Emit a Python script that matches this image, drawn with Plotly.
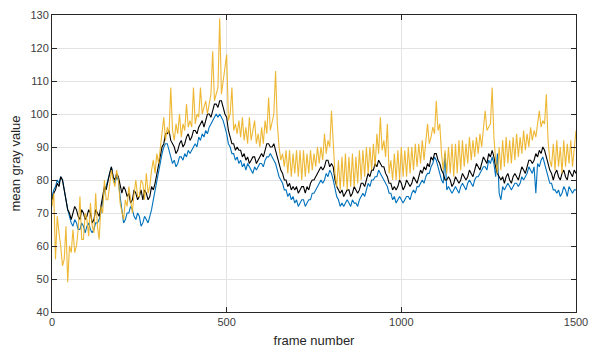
import plotly.graph_objects as go

# frame numbers (sampling every 5 frames)
frames = list(range(0, 1501, 5))

# mean gray value (black)
black_vals = [
    74, 76, 77, 79, 78, 81, 80, 77, 74, 71, 70, 68, 70, 72, 71, 69, 68, 71, 70, 68,
    69, 71, 70, 67, 68, 71, 70, 69, 72, 75, 78, 77, 80, 82, 84, 81, 80, 82, 81, 78,
    76, 78, 77, 75, 76, 73, 74, 77, 76, 74, 75, 77, 74, 77, 76, 74, 75, 78, 77, 79,
    82, 85, 88, 90, 91, 94, 94, 95, 92, 91, 90, 88, 89, 91, 92, 90, 91, 93, 94, 92,
    93, 95, 95, 94, 96, 97, 98, 96, 98, 100, 100, 99, 101, 103, 103, 102, 104, 104, 102, 100,
    99, 95, 93, 91, 91, 89, 90, 89, 89, 87, 88, 86, 87, 85, 86, 87, 87, 85, 86, 87,
    88, 87, 89, 91, 91, 90, 90, 91, 89, 87, 85, 83, 82, 80, 80, 78, 79, 77, 78, 77,
    78, 76, 77, 78, 78, 76, 78, 77, 79, 80, 80, 81, 82, 83, 84, 83, 84, 86, 86, 84,
    85, 84, 80, 78, 77, 76, 77, 75, 76, 77, 77, 75, 76, 78, 77, 76, 77, 79, 79, 78,
    80, 82, 81, 83, 83, 85, 84, 86, 85, 84, 84, 82, 81, 79, 79, 77, 78, 77, 78, 80,
    79, 77, 78, 80, 79, 78, 79, 81, 80, 79, 81, 83, 82, 84, 83, 85, 84, 87, 86, 88,
    88, 86, 85, 83, 82, 80, 80, 81, 80, 78, 79, 81, 80, 79, 80, 82, 81, 80, 81, 83,
    82, 81, 83, 85, 84, 83, 85, 87, 86, 85, 88, 87, 89, 87, 84, 82, 81, 80, 81, 79,
    81, 82, 80, 79, 81, 82, 81, 80, 82, 84, 83, 82, 84, 86, 86, 85, 86, 88, 87, 89,
    88, 90, 89, 87, 85, 83, 82, 80, 82, 83, 81, 80, 82, 83, 81, 80, 83, 82, 81, 83,
    82,
]

# blue series
blue_vals = [
    75, 77, 78, 80, 79, 81, 80, 77, 73, 71, 69, 67, 66, 68, 67, 65, 65, 67, 66, 64,
    66, 67, 65, 64, 65, 67, 67, 68, 70, 74, 77, 78, 80, 82, 84, 81, 79, 81, 80, 75,
    70, 67, 68, 70, 70, 72, 71, 69, 68, 70, 69, 66, 67, 69, 68, 67, 69, 71, 74, 77,
    80, 83, 86, 88, 90, 91, 91, 89, 87, 85, 86, 84, 85, 87, 87, 86, 88, 87, 89, 88,
    89, 90, 91, 90, 93, 92, 94, 93, 95, 94, 96, 97, 98, 99, 100, 99, 100, 99, 98, 96,
    94, 91, 90, 88, 88, 86, 87, 85, 86, 84, 85, 83, 85, 84, 83, 82, 84, 83, 84, 85,
    85, 84, 86, 87, 87, 88, 87, 86, 85, 83, 81, 80, 79, 77, 77, 75, 76, 74, 75, 73,
    74, 72, 73, 74, 74, 72, 73, 74, 74, 76, 76, 77, 78, 79, 80, 79, 80, 82, 81, 83,
    82, 80, 77, 75, 74, 72, 73, 72, 73, 74, 73, 72, 74, 73, 73, 72, 74, 75, 76, 75,
    77, 79, 78, 80, 80, 81, 81, 83, 82, 81, 80, 79, 78, 76, 76, 74, 75, 73, 74, 75,
    74, 73, 74, 75, 75, 74, 76, 77, 76, 78, 78, 79, 80, 79, 81, 82, 82, 84, 85, 87,
    86, 84, 82, 80, 79, 88, 77, 78, 77, 76, 77, 78, 77, 76, 78, 79, 78, 77, 79, 80,
    79, 78, 80, 81, 81, 82, 83, 84, 84, 83, 86, 85, 87, 85, 81, 88, 76, 74, 78, 77,
    78, 79, 78, 77, 78, 79, 79, 78, 79, 81, 80, 81, 82, 84, 83, 82, 84, 76, 85, 84,
    86, 87, 85, 83, 81, 79, 79, 77, 77, 76, 77, 75, 76, 78, 77, 75, 78, 77, 76, 77,
    77,
]

# yellow series
yellow_vals = [
    72, 76, 56, 69, 64, 60, 54, 56, 66, 49, 60, 58, 65, 58, 60, 65, 75, 62, 62, 70,
    68, 63, 73, 66, 64, 76, 66, 62, 72, 70, 80, 74, 74, 78, 83, 80, 78, 83, 80, 73,
    70, 68, 74, 72, 78, 74, 70, 76, 80, 75, 75, 80, 79, 74, 82, 76, 78, 83, 86, 82,
    88, 85, 90, 93, 99, 92, 96, 94, 108, 95, 92, 97, 94, 100, 93, 97, 95, 103, 96, 98,
    96, 108, 97, 100, 99, 108, 100, 102, 104, 100, 103, 106, 119, 104, 106, 108, 129, 106, 110, 114,
    118, 98, 100, 108, 95, 97, 94, 98, 93, 99, 92, 96, 91, 99, 92, 95, 98, 91, 94, 90,
    96, 91, 98, 94, 105, 95, 98, 100, 113, 97, 90, 86, 88, 84, 89, 82, 89, 81, 88, 82,
    89, 81, 89, 80, 89, 81, 88, 82, 89, 83, 88, 84, 90, 85, 90, 86, 94, 88, 92, 90,
    101, 90, 82, 78, 86, 77, 87, 78, 88, 77, 87, 78, 88, 78, 87, 79, 89, 80, 89, 81,
    90, 82, 90, 83, 91, 84, 94, 88, 99, 89, 92, 87, 97, 82, 86, 80, 88, 80, 89, 80,
    90, 81, 89, 81, 90, 82, 90, 83, 91, 84, 91, 85, 92, 86, 92, 97, 91, 93, 96, 94,
    104, 95, 97, 88, 83, 89, 82, 90, 82, 91, 81, 91, 82, 92, 83, 92, 84, 91, 85, 93,
    86, 92, 87, 93, 88, 94, 90, 95, 101, 95, 96, 97, 108, 93, 86, 82, 90, 83, 92, 84,
    93, 85, 92, 85, 93, 86, 94, 87, 93, 88, 95, 89, 94, 90, 96, 92, 95, 93, 97, 101,
    96, 98, 97, 106, 92, 86, 84, 91, 83, 92, 84, 90, 82, 92, 84, 91, 85, 92, 84, 90,
    95,
]

x_ticks = [0, 500, 1000, 1500]
y_ticks = [40, 50, 60, 70, 80, 90, 100, 110, 120, 130]

fig = go.Figure()
fig.add_trace(go.Scatter(x=frames, y=blue_vals, mode="lines",
                         line=dict(color="#0072BD", width=1.1), showlegend=False))
fig.add_trace(go.Scatter(x=frames, y=black_vals, mode="lines",
                         line=dict(color="#000000", width=1.1), showlegend=False))
fig.add_trace(go.Scatter(x=frames, y=yellow_vals, mode="lines", opacity=0.9,
                         line=dict(color="#EDB120", width=1.1), showlegend=False))

axis_common = dict(
    showline=True, linecolor="#262626", linewidth=1, mirror="ticks",
    ticks="inside", ticklen=5, tickcolor="#262626",
    showgrid=True, gridcolor="#E3E3E3", gridwidth=1, zeroline=False,
    automargin=False,
    tickfont=dict(family="Liberation Sans, Arial, sans-serif", size=11, color="#404040"),
)

fig.update_xaxes(range=[0, 1500], tickvals=x_ticks,
                 title=dict(text="frame number", standoff=10,
                            font=dict(family="Liberation Sans, Arial, sans-serif", size=13, color="#262626")),
                 **axis_common)
fig.update_yaxes(range=[40, 130], tickvals=y_ticks,
                 title=dict(text="mean gray value", standoff=6,
                            font=dict(family="Liberation Sans, Arial, sans-serif", size=13, color="#262626")),
                 **axis_common)

fig.update_layout(
    width=590, height=348,
    margin=dict(l=52, r=14, t=15, b=36),
    paper_bgcolor="white", plot_bgcolor="white",
)

fig.write_html("out.html",
               config={"displayModeBar": False},
               post_script="document.body.style.margin='0';document.body.style.overflow='hidden';")
